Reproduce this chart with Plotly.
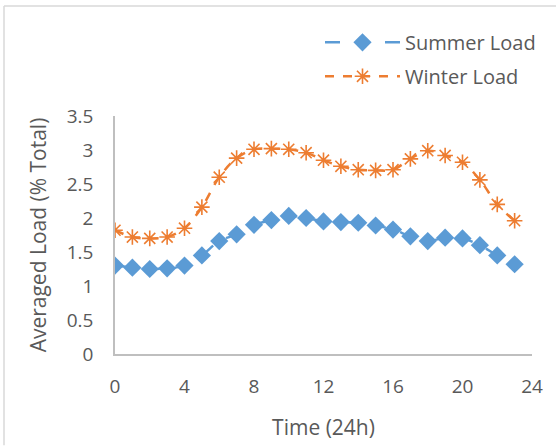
import plotly.graph_objects as go

hours = list(range(24))
summer_load = [1.30, 1.27, 1.25, 1.26, 1.30, 1.45, 1.66, 1.76, 1.90, 1.97, 2.03, 2.00,
               1.95, 1.94, 1.93, 1.89, 1.83, 1.73, 1.66, 1.71, 1.70, 1.60, 1.45, 1.32]
winter_load = [1.82, 1.72, 1.70, 1.72, 1.85, 2.16, 2.60, 2.88, 3.01, 3.02, 3.01, 2.96,
               2.85, 2.76, 2.71, 2.70, 2.71, 2.87, 2.99, 2.92, 2.82, 2.56, 2.20, 1.96]
x_ticks = [0, 4, 8, 12, 16, 20, 24]
y_ticks = [0, 0.5, 1, 1.5, 2, 2.5, 3, 3.5]

blue = "#5B9BD5"
orange = "#ED7D31"
grey_text = "#595959"
font_family = "Open Sans, Liberation Sans, sans-serif"

fig = go.Figure()
fig.add_trace(go.Scatter(
    x=hours, y=summer_load, name="Summer Load", mode="lines+markers", legendgroup="s",
    line=dict(color=blue, width=2.5, dash="longdash", shape="spline"),
    marker=dict(symbol="diamond", size=14, color=blue),
))
fig.add_trace(go.Scatter(
    x=hours, y=winter_load, name="Winter Load", mode="lines+markers", legendgroup="w",
    line=dict(color=orange, width=2.5, dash="dash", shape="spline"),
    marker=dict(symbol="asterisk-open", size=13, line=dict(color=orange, width=1.6)),
))

W, H = 556, 448
ml, mr, mt, mb = 115, 24, 116, 92
pw, ph = W - ml - mr, H - mt - mb

def px_x(p):
    return (p - ml) / pw

def px_y(p):
    return 1 - (p - mt) / ph

border = dict(color="#D9D9D9", width=1.5)

fig.update_layout(
    width=W, height=H,
    margin=dict(l=ml, r=mr, t=mt, b=mb),
    paper_bgcolor="white", plot_bgcolor="white",
    font=dict(family=font_family, color=grey_text, size=18),
    showlegend=True,
    legend=dict(
        x=px_x(320), y=px_y(22), xanchor="left", yanchor="top",
        font=dict(size=20, color=grey_text), bgcolor="rgba(0,0,0,0)",
        itemwidth=75, tracegroupgap=5,
    ),
    xaxis=dict(
        range=[0, 24], tickvals=x_ticks, showgrid=False, zeroline=False,
        showline=True, linecolor="#BFBFBF", linewidth=1.5, ticks="",
        title=dict(text="Time (24h)", font=dict(size=21, color=grey_text), standoff=23),
        tickfont=dict(size=19, color=grey_text), ticklabelstandoff=14,
    ),
    yaxis=dict(
        range=[0, 3.5], tickvals=y_ticks, showgrid=False, zeroline=False,
        showline=True, linecolor="#BFBFBF", linewidth=1.5, ticks="",
        title=dict(text="Averaged Load (% Total)", font=dict(size=21, color=grey_text), standoff=14),
        tickfont=dict(size=19, color=grey_text), ticklabelstandoff=16,
    ),
    shapes=[
        dict(type="line", xref="paper", yref="paper",
             x0=px_x(4), x1=px_x(W), y0=px_y(5), y1=px_y(5), line=border, layer="above"),
        dict(type="line", xref="paper", yref="paper",
             x0=px_x(4), x1=px_x(4), y0=px_y(5), y1=px_y(H), line=border, layer="above"),
    ],
)

fig.write_html("out.html", config={"displayModeBar": False},
               post_script="document.body.style.margin='0';")
